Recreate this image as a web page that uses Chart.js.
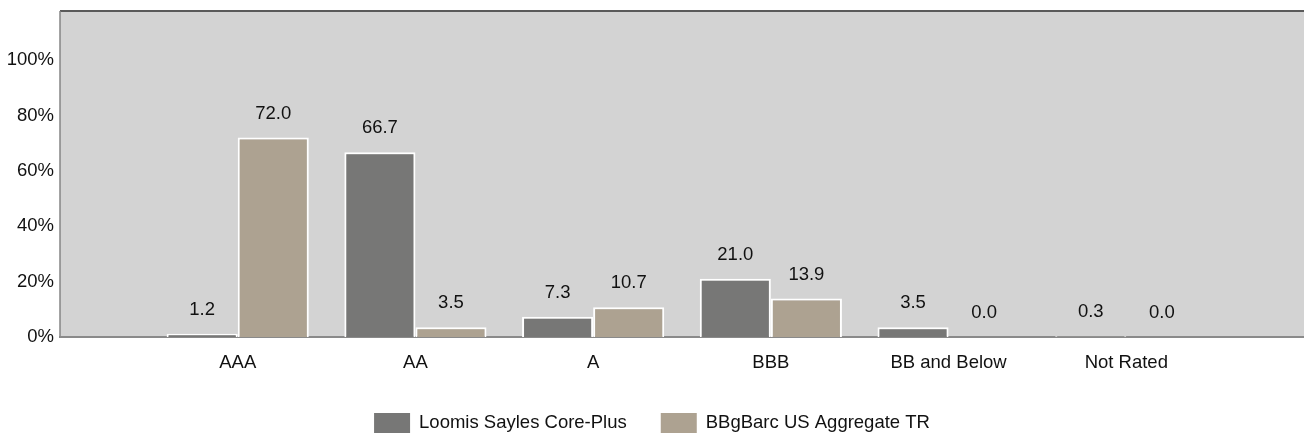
<!DOCTYPE html>
<html>
<head>
<meta charset="utf-8">
<script src="https://cdn.jsdelivr.net/npm/chart.js@4.4.0/dist/chart.umd.min.js"></script>
<style>
  html, body { margin: 0; padding: 0; background: #fff; }
  #wrap { width: 1304px; height: 435px; }
</style>
</head>
<body>
<div id="wrap"><canvas id="quality-chart"></canvas></div>
<script>
// blank slots at both ends so the real ratings sit on the tick lines
const ratings = ['', 'AAA', 'AA', 'A', 'BBB', 'BB and Below', 'Not Rated', ''];
const loomis = [null, 1.2, 66.7, 7.3, 21.0, 3.5, 0.3, null];
const bbgbarc = [null, 72.0, 3.5, 10.7, 13.9, 0.0, 0.0, null];
const yTicks = [0, 20, 40, 60, 80, 100];

const FONT = 'Liberation Sans, Arial, sans-serif';
const SIZE = 18.5;

// grey plot panel with the dark frame lines
const panel = {
    id: 'panel',
    beforeDraw(chart) {
        const { ctx, chartArea: a } = chart;
        ctx.save();
        ctx.fillStyle = '#d3d3d3';
        ctx.fillRect(a.left, a.top, a.right - a.left, a.bottom - a.top);
        ctx.strokeStyle = '#5a5a5a';
        ctx.lineWidth = 2;
        ctx.beginPath();
        ctx.moveTo(a.left, a.top);
        ctx.lineTo(a.right, a.top);
        ctx.stroke();
        ctx.strokeStyle = '#858585';
        ctx.lineWidth = 1.5;
        ctx.beginPath();
        ctx.moveTo(a.left, a.top);
        ctx.lineTo(a.left, a.bottom);
        ctx.stroke();
        ctx.restore();
    }
};

// value labels above each bar
const valueLabels = {
    id: 'valueLabels',
    afterDatasetsDraw(chart) {
        const { ctx } = chart;
        ctx.save();
        ctx.font = SIZE + 'px ' + FONT;
        ctx.fillStyle = '#111';
        ctx.textAlign = 'center';
        ctx.textBaseline = 'middle';
        chart.data.datasets.forEach((ds, i) => {
            chart.getDatasetMeta(i).data.forEach((bar, j) => {
                const v = ds.data[j];
                if (v === null) return;
                ctx.fillText(v.toFixed(1), bar.x, bar.y - 24);
            });
        });
        ctx.restore();
    }
};

// legend drawn by hand so the gap between items can be wider than its height
const bottomLegend = {
    id: 'bottomLegend',
    afterDraw(chart) {
        const { ctx } = chart;
        const boxW = 36, boxH = 20, gap = 9, between = 34;
        ctx.save();
        ctx.font = SIZE + 'px ' + FONT;
        const items = chart.data.datasets.map(ds => ({
            text: ds.label,
            color: ds.backgroundColor,
            w: boxW + gap + ctx.measureText(ds.label).width
        }));
        const total = items.reduce((s, it) => s + it.w, 0) + between * (items.length - 1);
        let x = (chart.width - total) / 2;
        const cy = chart.height - 12;
        ctx.textBaseline = 'middle';
        ctx.textAlign = 'left';
        items.forEach(it => {
            ctx.fillStyle = it.color;
            ctx.fillRect(x, cy - boxH / 2, boxW, boxH);
            ctx.fillStyle = '#111';
            ctx.fillText(it.text, x + boxW + gap, cy);
            x += it.w + between;
        });
        ctx.restore();
    }
};

new Chart(document.querySelector('#quality-chart').getContext('2d'), {
    type: 'bar',
    data: {
        labels: ratings,
        datasets: [
            {
                label: 'Loomis Sayles Core-Plus',
                data: loomis,
                backgroundColor: '#777776',
                borderColor: '#ffffff',
                borderWidth: 2,
                borderSkipped: 'bottom'
            },
            {
                label: 'BBgBarc US Aggregate TR',
                data: bbgbarc,
                backgroundColor: '#ada291',
                borderColor: '#ffffff',
                borderWidth: 2,
                borderSkipped: 'bottom'
            }
        ]
    },
    options: {
        responsive: true,
        maintainAspectRatio: false,
        animation: false,
        layout: { padding: { top: 11, right: 0, left: 0, bottom: 0 } },
        datasets: { bar: { categoryPercentage: 0.8, barPercentage: 1.0 } },
        scales: {
            x: {
                offset: false,
                grid: { display: false, drawTicks: false },
                border: { display: true, color: '#8a8a8a', width: 2 },
                ticks: {
                    color: '#111',
                    font: { family: FONT, size: SIZE },
                    padding: 15,
                    maxRotation: 0,
                    autoSkip: false
                },
                afterFit(scale) {
                    scale.height = 98;
                    scale.paddingRight = 0;
                    scale.paddingLeft = 0;
                }
            },
            y: {
                min: 0,
                max: 117.7,
                grid: { display: false, drawTicks: false },
                border: { display: false },
                afterBuildTicks(scale) { scale.ticks = yTicks.map(v => ({ value: v })); },
                ticks: {
                    color: '#111',
                    font: { family: FONT, size: SIZE },
                    padding: 6,
                    callback: v => v + '%'
                },
                afterFit(scale) {
                    scale.width = 60;
                    scale.paddingTop = 0;
                    scale.paddingBottom = 0;
                }
            }
        },
        plugins: {
            legend: { display: false },
            tooltip: { enabled: false }
        }
    },
    plugins: [panel, valueLabels, bottomLegend]
});
</script>
</body>
</html>
